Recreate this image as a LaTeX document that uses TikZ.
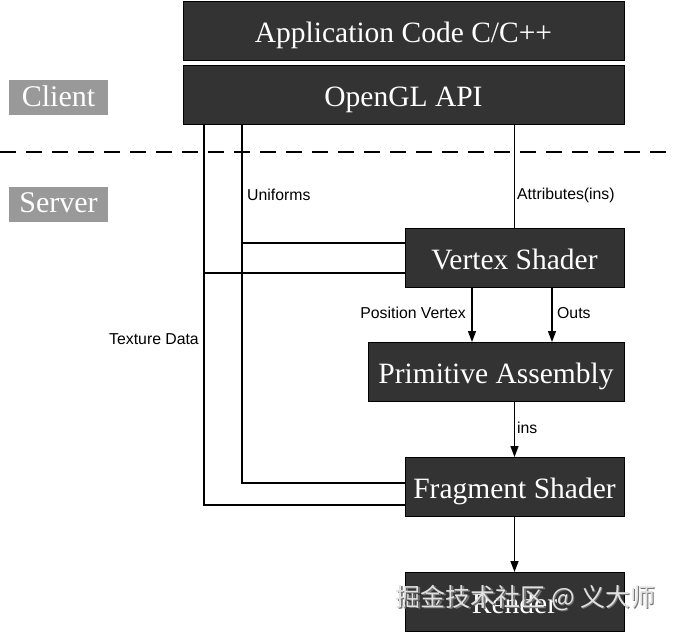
\documentclass[tikz,border=0pt]{standalone}
\usepackage{fontspec}
\setmainfont{Liberation Serif}
\setsansfont{Liberation Sans}
\newfontfamily\cjkfont{Noto Sans CJK SC}
\usetikzlibrary{positioning,arrows.meta}
\definecolor{stagegray}{HTML}{333333}
\definecolor{taggray}{HTML}{999999}
\tikzset{
    stagebox/.style={draw=black, line width=1pt, fill=stagegray, text=white,
        font=\fontsize{29.5}{32}\selectfont, inner sep=0pt, minimum height=59pt,
        text height=22pt, text depth=0pt},
    sidetag/.style={fill=taggray, text=white, font=\fontsize{30}{32}\selectfont,
        inner sep=0pt, minimum width=99pt, minimum height=35pt,
        text height=17pt, text depth=0pt},
    wire/.style={line width=1.4pt},
    flow/.style={wire, -{Triangle[length=11pt,width=8pt]}},
    lbl/.style={font=\sffamily\fontsize{15.8}{18}\selectfont, inner sep=0pt}
}

\begin{document}
\begin{tikzpicture}[x=1pt, y=-1pt]
    \useasboundingbox (0,0) rectangle (673,632);

    \node[stagebox, minimum width=441pt] (app) at (403.5,31) {Application Code C/C++};
    \node[stagebox, minimum width=441pt] (api) at (403.5,95) {OpenGL API};
    \node[stagebox, minimum width=219pt] (vs) at (514.5,258) {Vertex Shader};
    \node[stagebox, minimum width=256pt] (pa) at (496,372) {Primitive Assembly};
    \node[stagebox, minimum width=219pt] (fs) at (514.5,487) {Fragment Shader};
    \node[stagebox, minimum width=219pt] (rd) at (514.5,602) {Render};

    \node[sidetag] (client) at (58.5,97.5) {Client};
    \node[sidetag] (server) at (58.5,204) {Server};

    \draw[line width=2pt, dash pattern=on 16pt off 10pt] (0,152) -- (673,152);

    \coordinate (tex) at (204,0);
    \coordinate (uni) at (242,0);
    \coordinate (vsuni) at ([yshift=15pt]vs.west);
    \coordinate (vstex) at ([yshift=-15pt]vs.west);
    \coordinate (posv) at ([xshift=-42.5pt]vs.south);
    \coordinate (outs) at ([xshift=37.5pt]vs.south);

    % texture data and uniforms
    \draw[wire] (api.south -| tex) |- ([yshift=-18pt]fs.west);
    \draw[wire] (vstex) -- (vstex -| tex);
    \draw[wire] (api.south -| uni) |- ([yshift=4pt]fs.west);
    \draw[wire] (vsuni) -- (vsuni -| uni);
    \draw[wire] (api.south -| vs.north) -- (vs.north);

    % pipeline
    \draw[flow] (posv) -- (pa.north -| posv);
    \draw[flow] (outs) -- (pa.north -| outs);
    \draw[flow] (pa.south -| fs.north) -- (fs.north);
    \draw[flow] (fs.south) -- (rd.north);

    \node[lbl, anchor=west] (lunif) at (247,195) {Uniforms};
    \node[lbl, anchor=west] (lattr) at (517,195) {Attributes(ins)};
    \node[lbl, anchor=east] (lpos) at (466,313) {Position Vertex};
    \node[lbl, anchor=west] (louts) at (557,313) {Outs};
    \node[lbl, anchor=east] (ltex) at (199,339) {Texture Data};
    \node[lbl, anchor=west] (lins) at (517,428) {ins};

    \node[text=black!55, font=\cjkfont\fontsize{25}{28}\selectfont] (markshadow) at (527,599.5) {掘金技术社区 @ 义大师};
    \node[text=black!12, font=\cjkfont\fontsize{25}{28}\selectfont] (mark) at (525.5,598) {掘金技术社区 @ 义大师};
\end{tikzpicture}
\end{document}
